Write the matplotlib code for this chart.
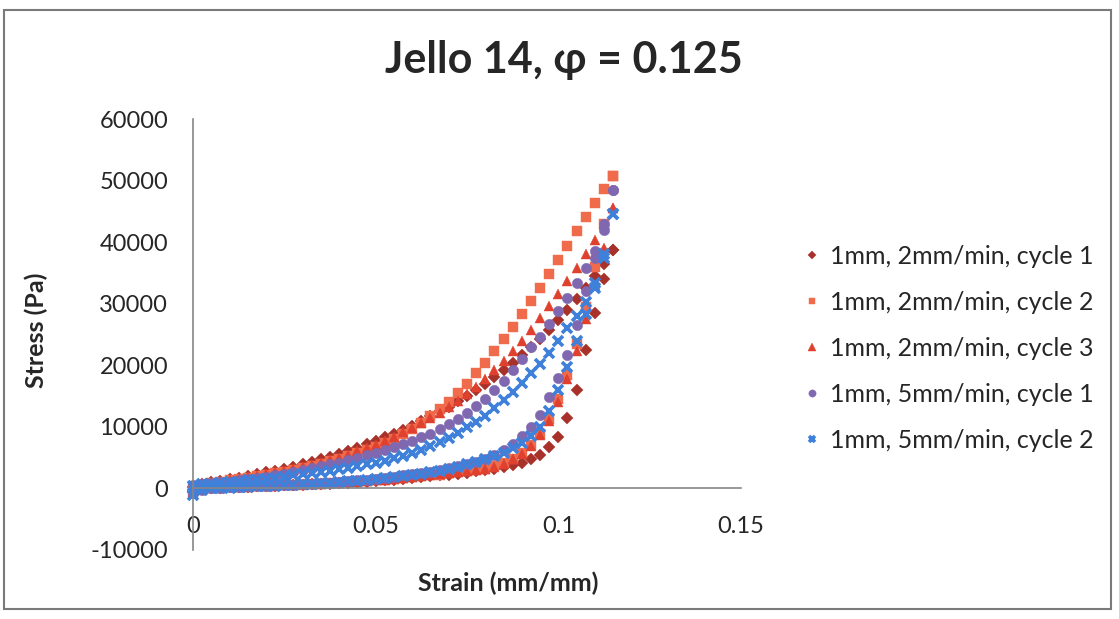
import matplotlib
matplotlib.use("Agg")
import matplotlib.pyplot as plt
from matplotlib.patches import Rectangle

plt.rcParams['font.family'] = ['Lato', 'DejaVu Sans']

TITLE = "Jello 14, φ = 0.125"
XLABEL = "Strain (mm/mm)"
YLABEL = "Stress (Pa)"
XTICKS = [0, 0.05, 0.1, 0.15]
XTICKLABELS = ["0", "0.05", "0.1", "0.15"]
YTICKS = [-10000, 0, 10000, 20000, 30000, 40000, 50000, 60000]
YTICKLABELS = ["-10000", "0", "10000", "20000", "30000", "40000", "50000", "60000"]

SERIES = ["1mm, 2mm/min, cycle 1", "1mm, 2mm/min, cycle 2", "1mm, 2mm/min, cycle 3",
          "1mm, 5mm/min, cycle 1", "1mm, 5mm/min, cycle 2"]

STRAIN = [0.0, 0.0025, 0.005, 0.0075, 0.01, 0.0125, 0.015, 0.0175, 0.02, 0.0225,
          0.025, 0.0275, 0.03, 0.0325, 0.035, 0.0375, 0.04, 0.0425, 0.045, 0.0475,
          0.05, 0.0525, 0.055, 0.0575, 0.06, 0.0625, 0.065, 0.0675, 0.07, 0.0725,
          0.075, 0.0775, 0.08, 0.0825, 0.085, 0.0875, 0.09, 0.0925, 0.095, 0.0975,
          0.1, 0.1025, 0.105, 0.1075, 0.11, 0.1125, 0.115]

# loading branches (Pa)
C1_LOAD = [-500, 0, 100, 150, 200, 250, 300, 350, 400, 450, 500, 550, 600, 650, 700, 800,
           850, 950, 1000, 1100, 1200, 1300, 1400, 1500, 1650, 1800, 1950, 2100, 2250, 2400,
           2550, 2750, 2950, 3200, 3450, 3800, 4200, 4700, 5500, 6800, 8300, 11500, 16000,
           22500, 28500, 34000, 38700]
C2_LOAD = [-600, -100, 100, 150, 200, 250, 300, 350, 400, 450, 500, 550, 600, 700, 750, 850,
           900, 1000, 1100, 1200, 1300, 1400, 1500, 1650, 1800, 1950, 2100, 2250, 2450, 2600,
           2800, 3000, 3200, 3600, 4100, 4800, 5700, 7000, 8800, 11300, 14500, 18500, 23500,
           29500, 36000, 43000, 50700]
C3_LOAD = [-700, -100, 50, 150, 200, 250, 300, 350, 400, 450, 500, 550, 650, 700, 800, 850,
           950, 1000, 1100, 1200, 1300, 1400, 1550, 1700, 1850, 2000, 2150, 2300, 2500, 2650,
           2850, 3000, 3100, 3500, 4000, 4700, 5600, 6900, 8600, 11000, 14000, 17800, 22300,
           27500, 33000, 39000, 45500]
C4_LOAD = [-800, -200, 0, 100, 200, 300, 350, 400, 450, 500, 550, 600, 700, 750, 850, 950,
           1050, 1150, 1300, 1450, 1600, 1750, 1900, 2100, 2300, 2500, 2700, 3000, 3300, 3600,
           3900, 4300, 4800, 5400, 6200, 7200, 8500, 10000, 12000, 14800, 18000, 21700, 26500,
           32000, 37500, 43000, 48500]
C5_LOAD = [-1000, -300, 0, 100, 150, 250, 300, 350, 400, 450, 500, 600, 650, 750, 850, 950,
           1050, 1150, 1250, 1400, 1550, 1700, 1850, 2000, 2200, 2400, 2600, 2900, 3200, 3500,
           3900, 4300, 4700, 5200, 5800, 6500, 7400, 8500, 10000, 12500, 16000, 19800, 24000,
           28300, 32500, 38000, 44500]

# unloading branches (Pa)
C1_UNLOAD = [300, 700, 1000, 1250, 1500, 1750, 2000, 2300, 2600, 2900, 3200, 3550, 3900, 4300,
             4700, 5150, 5600, 6100, 6600, 7150, 7700, 8300, 8900, 9550, 10200, 10950, 11700,
             12500, 13300, 14150, 15000, 16000, 17000, 18100, 19200, 20400, 21600, 22950,
             24300, 25800, 27300, 29000, 30700, 32600, 34500, 36500, 38700]
C2_UNLOAD = [200, 600, 900, 1100, 1300, 1500, 1700, 1950, 2200, 2450, 2700, 3000, 3300, 3650,
             4000, 4400, 4800, 5250, 5700, 6250, 6800, 7450, 8100, 8900, 9700, 10700, 11700,
             12900, 14100, 15550, 17000, 18700, 20400, 22300, 24200, 26250, 28300, 30450,
             32600, 34850, 37100, 39450, 41800, 44100, 46400, 48550, 50700]
C3_UNLOAD = [200, 600, 900, 1100, 1300, 1550, 1800, 2050, 2300, 2600, 2900, 3200, 3500, 3850,
             4200, 4600, 5000, 5500, 6000, 6550, 7100, 7750, 8400, 9100, 9800, 10600, 11400,
             12300, 13200, 14250, 15300, 16550, 17800, 19250, 20700, 22350, 24000, 25800,
             27600, 29550, 31500, 33650, 35800, 38100, 40400, 42950, 45500]
C4_UNLOAD = [600, 800, 900, 1000, 1100, 1300, 1500, 1700, 1900, 2100, 2400, 2700, 3000, 3300,
             3600, 3900, 4200, 4600, 5000, 5400, 5800, 6200, 6700, 7200, 7700, 8300, 8900,
             9600, 10400, 11300, 12300, 13400, 14600, 16000, 17500, 19300, 21000, 22900,
             24600, 26700, 28800, 31000, 33300, 35800, 38500, 42000, 48500]
C5_UNLOAD = [400, 700, 800, 900, 1000, 1100, 1300, 1400, 1600, 1700, 1900, 2100, 2300, 2500,
             2700, 2900, 3100, 3300, 3600, 3900, 4200, 4500, 4900, 5300, 5800, 6300, 6900,
             7500, 8200, 9000, 9900, 10800, 11800, 13000, 14300, 15700, 17200, 18700, 20200,
             22000, 24000, 26000, 28000, 30300, 33300, 37500, 44500]

LOADS = [C1_LOAD, C2_LOAD, C3_LOAD, C4_LOAD, C5_LOAD]
UNLOADS = [C1_UNLOAD, C2_UNLOAD, C3_UNLOAD, C4_UNLOAD, C5_UNLOAD]
COLORS = ["#A8322A", "#F06A4C", "#E0412F", "#7F68B0", "#3F80DA"]
MARKERS = ["D", "s", "^", "o", "x"]
MSIZES = [6.5, 6.5, 7.5, 7.5, 6.5]

fig = plt.figure(figsize=(11.19, 6.19), dpi=100)
fig.patch.set_facecolor("white")
ax = fig.add_axes([193 / 1119, 1 - 550 / 619, (741 - 193) / 1119, (550 - 119) / 619])

for name, lo, un, c, m, ms in zip(SERIES, LOADS, UNLOADS, COLORS, MARKERS, MSIZES):
    xs = STRAIN + STRAIN[::-1]
    ys = lo + un[::-1]
    kw = dict(linestyle="none", marker=m, markersize=ms, color=c)
    if m == "x":
        kw.update(markeredgewidth=2.6)
    else:
        kw.update(markeredgewidth=0.3, markeredgecolor=c)
    ax.plot(xs, ys, label=name, clip_on=False, **kw)

ax.set_xlim(0, 0.15)
ax.set_ylim(-10000, 60000)
for s in ["top", "right"]:
    ax.spines[s].set_visible(False)
ax.spines["left"].set_position(("data", 0))
ax.spines["bottom"].set_position(("data", 0))
ax.spines["left"].set_color("#868686")
ax.spines["bottom"].set_color("#868686")
ax.spines["left"].set_linewidth(1.2)
ax.spines["bottom"].set_linewidth(1.2)
ax.set_xticks(XTICKS)
ax.set_xticklabels(XTICKLABELS)
ax.set_yticks(YTICKS)
ax.set_yticklabels(YTICKLABELS)
ax.tick_params(axis="x", length=0, pad=20, labelsize=17, colors="#262626")
ax.tick_params(axis="y", length=0, pad=18, labelsize=17, colors="#262626")
ax.patch.set_alpha(0)

fig.text(0.5 * (383 + 745) / 1119, 1 - 60 / 619, TITLE, ha="center", va="center",
         fontsize=31, fontweight="bold", color="#262626")
fig.text(508 / 1119, 1 - 583 / 619, XLABEL, ha="center", va="center",
         fontsize=18, fontweight="bold", color="#262626")
fig.text(36 / 1119, 1 - 330 / 619, YLABEL, ha="center", va="center", rotation=90,
         fontsize=18, fontweight="bold", color="#262626")

leg = fig.legend(loc="upper left", bbox_to_anchor=(777 / 1119, 1 - 222 / 619),
                 frameon=False, fontsize=18, handletextpad=0.2, handlelength=1.0,
                 labelspacing=0.92, markerscale=0.7)
for t in leg.get_texts():
    t.set_color("#262626")

fig.add_artist(Rectangle((4 / 1119, 1 - 609 / 619), 1107 / 1119, 599 / 619,
                         transform=fig.transFigure, fill=False, edgecolor="#7a7a7a",
                         linewidth=1.5))

fig.savefig("out.png", dpi=100, facecolor="white")
